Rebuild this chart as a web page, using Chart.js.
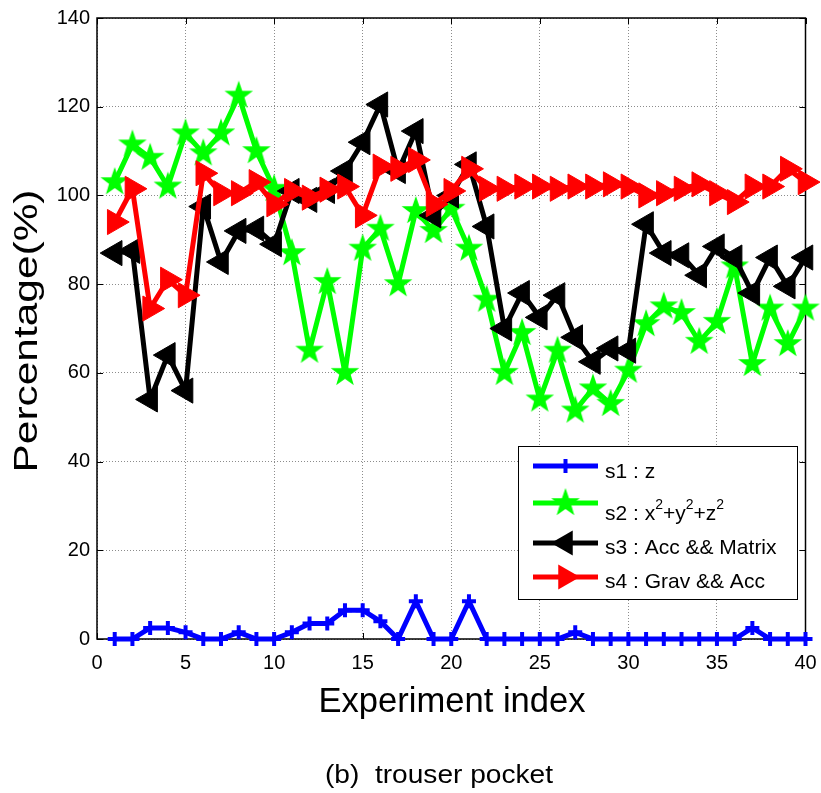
<!DOCTYPE html>
<html>
<head>
<meta charset="utf-8">
<script src="https://cdn.jsdelivr.net/npm/chart.js@4.4.1/dist/chart.umd.min.js"></script>
<style>
  html, body { margin: 0; padding: 0; background: #fff; }
  #wrap { width: 821px; height: 793px; }
</style>
</head>
<body>
<div id="wrap"><canvas id="myChart" width="821" height="793"></canvas></div>
<script>
const experimentos = [1,2,3,4,5,6,7,8,9,10,11,12,13,14,15,16,17,18,19,20,
  21,22,23,24,25,26,27,28,29,30,31,32,33,34,35,36,37,38,39,40];

const s1 = [0,0,2.5,2.5,1.5,0,0,1.5,0,0, 1.5,3.5,3.5,6.5,6.5,4,0,8.5,0,0,
  8.5,0,0,0,0,0,1.5,0,0,0, 0,0,0,0,0,0,2.5,0,0,0];
const s2 = [103,111.5,108.5,102,114,109.5,114,122.5,110,101.5, 87,65,80.5,60,88,92.5,80,96.5,92,97,
  88,76.5,60,69,54,65,51.5,56.5,53,60.5, 71,75,73.5,67,71.5,84,62,74.5,66.5,74.5];
const s3 = [87,87.5,54,64,56,97.5,85,92,92.5,89, 101,99,101,105.5,112,120.5,105.5,114.5,95.5,100,
  107,93,70,78,72.5,77.5,68,62.5,65.5,65, 93.5,87,86.5,82,88.5,86,78,86,79.5,86];
const s4 = [94,101.5,74.5,81,77.5,105,100.5,100.5,103,98, 101,99.5,101.3,102,95.5,106.5,106,108,98,101,
  106,101.5,101.5,102,102,101.5,102,102,102.5,102, 100,100.5,101.5,102.5,100.5,98.5,102,102,106,103];

const xTicks = [0,5,10,15,20,25,30,35,40];
const yTicks = [0,20,40,60,80,100,120,140];

const fuente = '"Liberation Sans", Arial, Helvetica, sans-serif';

// estrella rellena tipo pentagram de matlab
function crearEstrella(color, r) {
  const c = document.createElement('canvas');
  const size = Math.ceil(r * 2) + 2;
  c.width = size; c.height = size;
  const g = c.getContext('2d');
  g.fillStyle = color;
  g.beginPath();
  for (let i = 0; i < 10; i++) {
    const rad = (i % 2 === 0) ? r : r * 0.4;
    const ang = -Math.PI / 2 + i * Math.PI / 5;
    g.lineTo(size / 2 + rad * Math.cos(ang), size / 2 + rad * Math.sin(ang));
  }
  g.closePath();
  g.fill();
  return c;
}
const estrella = crearEstrella('#00ff00', 15);

const puntos = (serie) => serie.map((v, i) => ({ x: experimentos[i], y: v }));

function textoAjustado(ctx, texto, x, y, ancho, rot) {
  ctx.save();
  ctx.translate(x, y);
  ctx.rotate(rot);
  const w = ctx.measureText(texto).width;
  ctx.scale(ancho / w, 1);
  ctx.textAlign = 'center';
  ctx.textBaseline = 'alphabetic';
  ctx.fillText(texto, 0, 0);
  ctx.restore();
}

function triangulo(ctx, x, y, r, dir, color) {
  // dir: -1 izquierda, 1 derecha
  ctx.fillStyle = color;
  ctx.beginPath();
  ctx.moveTo(x + dir * r, y);
  ctx.lineTo(x - dir * r * 0.5, y - r * 0.866);
  ctx.lineTo(x - dir * r * 0.5, y + r * 0.866);
  ctx.closePath();
  ctx.fill();
}

const marcoPlugin = {
  id: 'marco',
  beforeDatasetsDraw(chart) {
    const { ctx, chartArea: a, scales: { x, y } } = chart;
    ctx.save();
    ctx.strokeStyle = '#000';
    ctx.lineWidth = 1;
    ctx.beginPath();
    xTicks.forEach(v => {
      const px = Math.round(x.getPixelForValue(v)) + 0.5;
      ctx.moveTo(px, a.bottom); ctx.lineTo(px, a.bottom - 6);
      ctx.moveTo(px, a.top); ctx.lineTo(px, a.top + 6);
    });
    yTicks.forEach(v => {
      const py = Math.round(y.getPixelForValue(v)) + 0.5;
      ctx.moveTo(a.left, py); ctx.lineTo(a.left + 6, py);
      ctx.moveTo(a.right, py); ctx.lineTo(a.right - 6, py);
    });
    ctx.stroke();
    ctx.lineWidth = 1.5;
    ctx.strokeRect(a.left, a.top, a.right - a.left, a.bottom - a.top);
    ctx.restore();
  },
  afterDraw(chart) {
    const { ctx } = chart;
    ctx.save();
    ctx.fillStyle = '#000';

    // titulos de ejes y pie
    ctx.font = '34px ' + fuente;
    textoAjustado(ctx, 'Percentage(%)', 37, 331, 283, -Math.PI / 2);
    ctx.font = '35px ' + fuente;
    textoAjustado(ctx, 'Experiment index', 452, 712, 267, 0);
    ctx.font = '25px ' + fuente;
    textoAjustado(ctx, '(b)  trouser pocket', 439, 783, 228, 0);

    // leyenda
    ctx.fillStyle = '#fff';
    ctx.fillRect(518, 446, 279, 153);
    ctx.strokeStyle = '#000';
    ctx.lineWidth = 1;
    ctx.strokeRect(518.5, 446.5, 279, 153);

    const filas = [
      { color: '#0000ff', yl: 466, yt: 478 },
      { color: '#00ff00', yl: 503, yt: 520 },
      { color: '#000000', yl: 543, yt: 554 },
      { color: '#ff0000', yl: 577, yt: 588 }
    ];
    filas.forEach((f, i) => {
      ctx.strokeStyle = f.color;
      ctx.lineWidth = 5;
      ctx.beginPath();
      ctx.moveTo(533, f.yl); ctx.lineTo(598, f.yl);
      ctx.stroke();
      const mx = 565.5;
      if (i === 0) {
        ctx.lineWidth = 4;
        ctx.beginPath();
        ctx.moveTo(mx, f.yl - 7); ctx.lineTo(mx, f.yl + 7);
        ctx.moveTo(mx - 7, f.yl); ctx.lineTo(mx + 7, f.yl);
        ctx.stroke();
      } else if (i === 1) {
        ctx.drawImage(estrella, mx - estrella.width / 2, f.yl - estrella.height / 2);
      } else if (i === 2) {
        triangulo(ctx, mx, f.yl, 14.5, -1, f.color);
      } else {
        triangulo(ctx, mx, f.yl, 14.5, 1, f.color);
      }
    });

    ctx.fillStyle = '#000';
    ctx.textAlign = 'left';
    ctx.textBaseline = 'alphabetic';
    ctx.font = '21px ' + fuente;
    ctx.fillText('s1 : z', 605, filas[0].yt);
    ctx.fillText('s3 : Acc && Matrix', 605, filas[2].yt);
    ctx.fillText('s4 : Grav && Acc', 605, filas[3].yt);

    // s2 con superindices
    let cx = 605;
    const partes = [['s2 : x', false], ['2', true], ['+y', false], ['2', true], ['+z', false], ['2', true]];
    partes.forEach(([t, sup]) => {
      ctx.font = (sup ? '14px ' : '21px ') + fuente;
      ctx.fillText(t, cx, sup ? filas[1].yt - 11 : filas[1].yt);
      cx += ctx.measureText(t).width;
    });
    ctx.restore();
  }
};

const datasets = [
  {
    label: 's1 : z',
    data: puntos(s1),
    borderColor: '#0000ff',
    backgroundColor: '#0000ff',
    borderWidth: 5,
    pointStyle: 'cross',
    pointRadius: 7,
    pointBorderWidth: 4,
    order: 4
  },
  {
    label: 's2 : x2+y2+z2',
    data: puntos(s2),
    borderColor: '#00ff00',
    backgroundColor: '#00ff00',
    borderWidth: 5,
    pointStyle: estrella,
    order: 3
  },
  {
    label: 's3 : Acc && Matrix',
    data: puntos(s3),
    borderColor: '#000000',
    backgroundColor: '#000000',
    borderWidth: 5,
    pointStyle: 'triangle',
    pointRotation: -90,
    pointRadius: 14.5,
    pointBorderWidth: 1,
    order: 2
  },
  {
    label: 's4 : Grav && Acc',
    data: puntos(s4),
    borderColor: '#ff0000',
    backgroundColor: '#ff0000',
    borderWidth: 5,
    pointStyle: 'triangle',
    pointRotation: 90,
    pointRadius: 14.5,
    pointBorderWidth: 1,
    order: 1
  }
];
datasets.forEach(d => {
  d.tension = 0;
  d.clip = false;
  d.fill = false;
  d.borderJoinStyle = 'round';
  d.pointHoverRadius = d.pointRadius || 3;
});

const config = {
  type: 'line',
  data: { datasets },
  options: {
    responsive: false,
    animation: false,
    devicePixelRatio: 1,
    layout: { padding: { left: 0, right: 13, top: 18, bottom: 0 } },
    plugins: { legend: { display: false }, tooltip: { enabled: false } },
    scales: {
      x: {
        type: 'linear',
        min: 0, max: 40,
        afterFit: (s) => { s.height = 154; s.paddingLeft = 0; s.paddingRight = 0; },
        afterBuildTicks: (s) => { s.ticks = xTicks.map(v => ({ value: v })); },
        ticks: { color: '#000', font: { size: 20, family: fuente }, padding: 12, maxRotation: 0 },
        grid: { color: '#8c8c8c', lineWidth: 1, drawTicks: false },
        border: { display: false, dash: [1, 2] }
      },
      y: {
        min: 0, max: 140,
        afterFit: (s) => { s.width = 97; s.paddingTop = 0; s.paddingBottom = 0; },
        afterBuildTicks: (s) => { s.ticks = yTicks.map(v => ({ value: v })); },
        ticks: { color: '#000', font: { size: 20, family: fuente }, padding: 7 },
        grid: { color: '#8c8c8c', lineWidth: 1, drawTicks: false },
        border: { display: false, dash: [1, 2] }
      }
    }
  },
  plugins: [marcoPlugin]
};

const myChart = document.getElementById('myChart');
const chartInstance = new Chart(myChart, config);
</script>
</body>
</html>
